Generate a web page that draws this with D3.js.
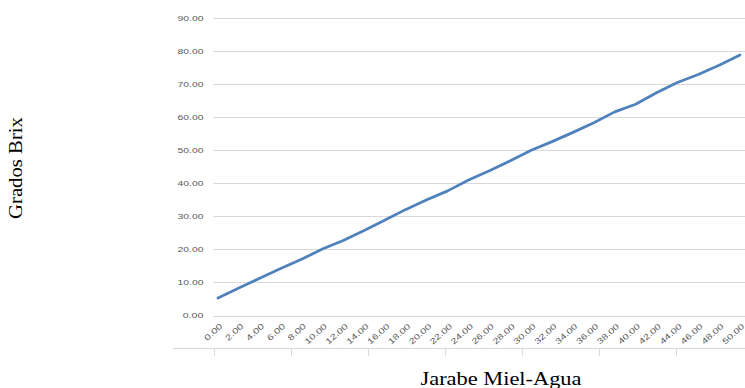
<!DOCTYPE html>
<html>
<head>
<meta charset="utf-8">
<script src="https://cdn.jsdelivr.net/npm/d3@7"></script>
<style>
  html, body { margin: 0; padding: 0; background: #fff; }
  svg { display: block; }
</style>
</head>
<body>
<svg id="chart" width="745" height="388"></svg>
<script>
// Concentration sweep of the honey–water syrup (x) and measured Brix (y)
const categories = ["0.00","2.00","4.00","6.00","8.00","10.00","12.00","14.00","16.00","18.00",
  "20.00","22.00","24.00","26.00","28.00","30.00","32.00","34.00","36.00","38.00",
  "40.00","42.00","44.00","46.00","48.00","50.00"];
const brixValues = [5.3, 8.3, 11.3, 14.2, 17.0, 20.1, 22.7, 25.7, 28.9, 32.1,
  35.0, 37.7, 41.0, 43.8, 46.8, 50.0, 52.6, 55.4, 58.3, 61.6,
  63.9, 67.4, 70.5, 72.9, 75.7, 78.8];
const yTicks = [0, 10, 20, 30, 40, 50, 60, 70, 80, 90];
const lowerAxisTicks = [0, 1, 2, 3, 4, 5, 6];

const svg = d3.select("#chart");
const W = 745, H = 388;

const x = d3.scalePoint().domain(categories).range([218, 740]);
const y = d3.scaleLinear().domain([0, 90]).range([315.5, 18]);
const gridLeft = 213.5, gridRight = 745;

// Horizontal gridlines
svg.append("g")
  .selectAll("line")
  .data(yTicks)
  .join("line")
  .attr("x1", gridLeft).attr("x2", gridRight)
  .attr("y1", d => Math.round(y(d)) + 0.5).attr("y2", d => Math.round(y(d)) + 0.5)
  .attr("stroke", "#d9d9d9").attr("stroke-width", 1);

// Value axis labels
svg.append("g")
  .selectAll("text")
  .data(yTicks)
  .join("text")
  .attr("x", 203.5)
  .attr("y", d => y(d))
  .attr("dy", "0.35em")
  .attr("text-anchor", "end")
  .attr("font-family", "'Liberation Sans', Arial, sans-serif")
  .attr("font-size", 8)
  .attr("fill", "#595959")
  .attr("textLength", d => d3.format(".2f")(d).length * 5.2)
  .attr("lengthAdjust", "spacingAndGlyphs")
  .text(d => d3.format(".2f")(d));

// Category labels, slanted
svg.append("g")
  .selectAll("text")
  .data(categories)
  .join("text")
  .attr("transform", d => `translate(${x(d) + 5},${327}) rotate(-42)`)
  .attr("text-anchor", "end")
  .attr("font-family", "'Liberation Sans', Arial, sans-serif")
  .attr("font-size", 8)
  .attr("fill", "#595959")
  .attr("textLength", d => d.length * 5.3)
  .attr("lengthAdjust", "spacingAndGlyphs")
  .text(d => d);

// Lower category axis line with its tick marks
const lower = d3.scaleLinear().domain([0, 7]).range([214, 753]);
svg.append("line")
  .attr("x1", 173).attr("x2", W)
  .attr("y1", 348.5).attr("y2", 348.5)
  .attr("stroke", "#d9d9d9").attr("stroke-width", 1);
svg.append("g")
  .selectAll("line")
  .data(lowerAxisTicks)
  .join("line")
  .attr("x1", d => Math.round(lower(d)) + 0.5).attr("x2", d => Math.round(lower(d)) + 0.5)
  .attr("y1", 348.5).attr("y2", 356)
  .attr("stroke", "#d9d9d9").attr("stroke-width", 1);

// Brix line
const line = d3.line()
  .x((d, i) => x(categories[i]))
  .y(d => y(d));
svg.append("path")
  .datum(brixValues)
  .attr("d", line)
  .attr("fill", "none")
  .attr("stroke", "#4f81bd")
  .attr("stroke-width", 2.75)
  .attr("stroke-linejoin", "round")
  .attr("stroke-linecap", "round");

// Axis titles
svg.append("text")
  .attr("transform", "translate(22,168) rotate(-90)")
  .attr("text-anchor", "middle")
  .attr("font-family", "'Liberation Serif', 'Times New Roman', serif")
  .attr("font-size", 19)
  .attr("fill", "#000")
  .attr("textLength", 102)
  .attr("lengthAdjust", "spacingAndGlyphs")
  .text("Grados Brix");

svg.append("text")
  .attr("x", 501)
  .attr("y", 385)
  .attr("text-anchor", "middle")
  .attr("font-family", "'Liberation Serif', 'Times New Roman', serif")
  .attr("font-size", 19)
  .attr("fill", "#000")
  .attr("textLength", 161)
  .attr("lengthAdjust", "spacingAndGlyphs")
  .text("Jarabe Miel-Agua");
</script>
</body>
</html>
